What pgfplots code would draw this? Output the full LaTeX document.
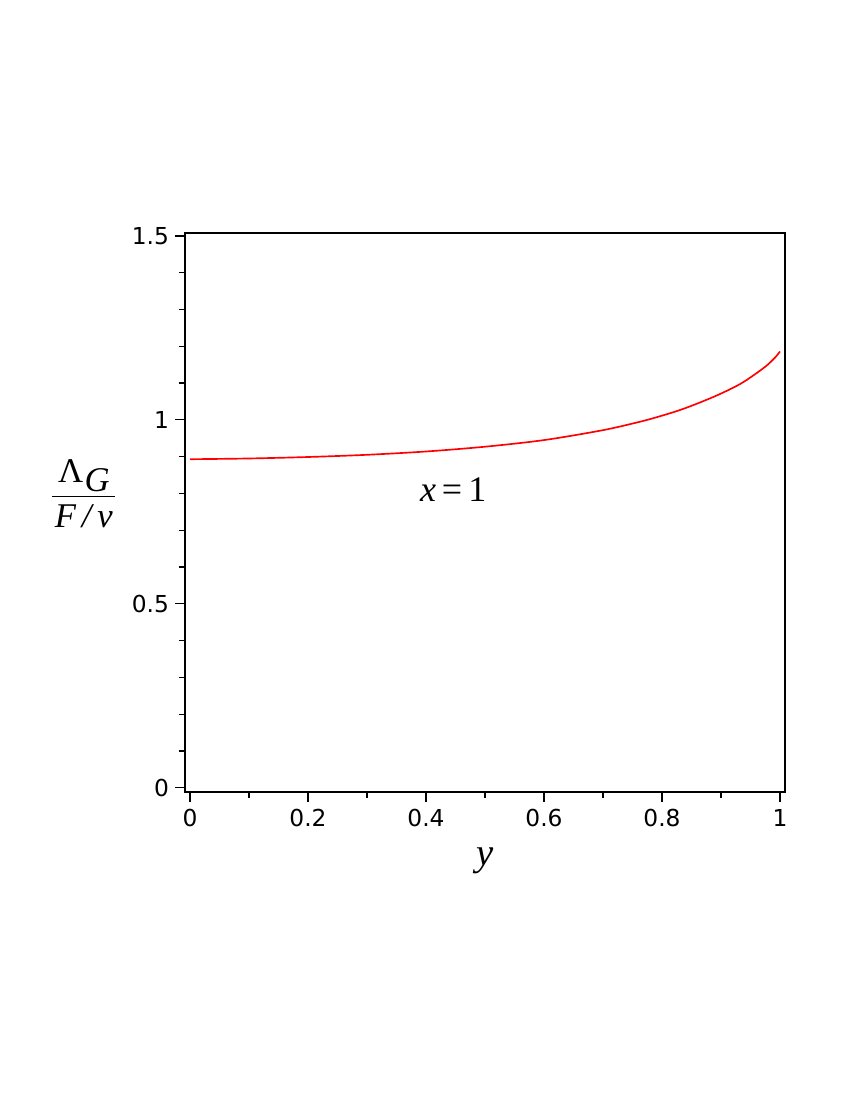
\documentclass[border=0pt]{standalone}
\usepackage{fontspec}
\setmainfont{Liberation Serif}
\newfontfamily\ticksf{DejaVu Sans}
\usepackage{pgfplots}
\pgfplotsset{compat=1.18}
\begin{document}
\begin{tikzpicture}
\useasboundingbox (0pt,0pt) rectangle (637.5pt,825pt);
\begin{axis}[
  at={(138.75pt,231pt)}, anchor=south west,
  scale only axis, width=450pt, height=419.25pt,
  xmin=-0.0085, xmax=1.0085, ymin=-0.0117, ymax=1.508,
  xtick={0,0.2,0.4,0.6,0.8,1}, xticklabels={0,0.2,0.4,0.6,0.8,1},
  ytick={0,0.5,1,1.5}, yticklabels={0,0.5,1,1.5},
  minor xtick={0.1,0.3,0.5,0.7,0.9},
  minor ytick={0.1,0.2,0.3,0.4,0.6,0.7,0.8,0.9,1.1,1.2,1.3,1.4},
  tick pos=left, tick align=outside,
  major tick length=7.5pt, minor tick length=4.5pt,
  every tick/.style={black, line width=0.9pt},
  axis line style={line width=1pt},
  ticklabel style={font=\ticksf\fontsize{17.5}{20}\selectfont},
  /pgf/number format/assume math mode=true,
  xticklabel style={yshift=-2pt},
  yticklabel style={xshift=-1pt},
  clip=false,
]
\addplot[red, line width=1.25pt, smooth, tension=0.5] coordinates {
(0,0.893) (0.1,0.895) (0.2,0.899) (0.3,0.905) (0.4,0.914) (0.5,0.927)
(0.6,0.945) (0.7,0.972) (0.763,0.995) (0.797,1.010) (0.831,1.027) (0.864,1.047)
(0.898,1.070) (0.932,1.097) (0.955,1.121) (0.977,1.147) (0.992,1.170) (1.0,1.186)
};
\node[font=\fontsize{27}{30}\selectfont] at (axis cs:0.446,0.81) {\itshape x\normalfont\,=\,1};
\node[font=\fontsize{29}{32}\selectfont] at (axis cs:0.5,-0.2) {\itshape y};
\node[font=\fontsize{26}{30}\selectfont] at (axis cs:-0.18,0.80) {$\displaystyle\frac{\mbox{\,Λ\kern1pt\raisebox{-0.6ex}{\itshape G}\,}}{\mbox{\itshape F\,/\,v}}$};
\end{axis}
\end{tikzpicture}
\end{document}
